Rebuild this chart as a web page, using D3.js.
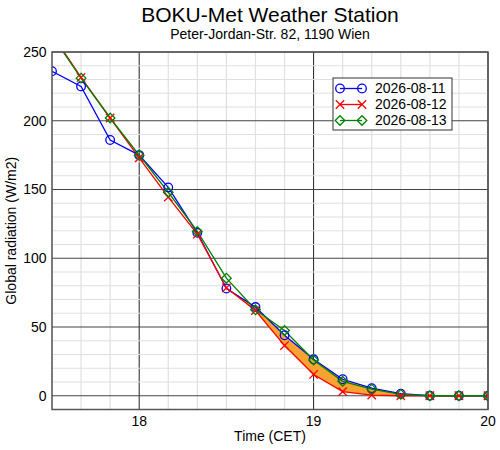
<!DOCTYPE html>
<html>
<head>
<meta charset="utf-8">
<script src="https://cdn.jsdelivr.net/npm/d3@7"></script>
<style>
  body { margin: 0; background: #fff; }
  svg { font-family: "Liberation Sans", Arial, sans-serif; }
</style>
</head>
<body>
<div id="chart"></div>
<script>
// 10-minute samples, CET
const times = ["17:30", "17:40", "17:50", "18:00", "18:10", "18:20", "18:30", "18:40",
               "18:50", "19:00", "19:10", "19:20", "19:30", "19:40", "19:50", "20:00"];

const day11 = [236, 225, 186, 175, 151.5, 118.5, 78, 64.5, 44, 26.5, 12, 5.5, 1.5, 0, 0, 0];
const day12 = [263, 231.5, 202, 173, 144.5, 117.5, 78.5, 62, 36.5, 15.5, 3, 0.5, 0, 0, 0, 0];
const day13 = [262, 231, 202, 175, 148, 119.5, 85.5, 62.5, 47.5, 26, 10.5, 4.8, 1, 0, 0, 0];

const seriesNames = ["2026-08-11", "2026-08-12", "2026-08-13"];
const seriesColors = ["#0000ff", "#ff0000", "#008000"];
const seriesMarkers = ["circle", "cross", "diamond"];

const xTicks = [18, 19, 20];
const yTicks = [0, 50, 100, 150, 200, 250];

// shading between 08-12 and 08-11 starts here
const fillFrom = "18:30";

const width = 500, height = 450;
const pLeft = 52, pRight = 488, pTop = 52, pBottom = 409.5;

const toHours = s => { const [h, m] = s.split(":").map(Number); return h + m / 60; };
const hours = times.map(toHours);

const x = d3.scaleLinear().domain([17.5, 20]).range([pLeft, pRight]);
const y = d3.scaleLinear().domain([-10, 250]).range([pBottom, pTop]);

const svg = d3.select("#chart").append("svg")
    .attr("width", width)
    .attr("height", height);

svg.append("defs").append("clipPath").attr("id", "plot-clip")
  .append("rect")
    .attr("x", pLeft).attr("y", pTop)
    .attr("width", pRight - pLeft).attr("height", pBottom - pTop);

// grid
const grid = svg.append("g");
const xMinor = d3.range(17.5, 20.001, 1 / 6).filter(v => !xTicks.some(t => Math.abs(t - v) < 1e-6));
const yMinor = d3.range(-10, 251, 10).filter(v => v % 50 !== 0);

grid.selectAll(".xminor").data(xMinor).join("line")
    .attr("x1", d => x(d)).attr("x2", d => x(d))
    .attr("y1", pTop).attr("y2", pBottom)
    .attr("stroke", "#e0e0e0").attr("stroke-width", 1.2);

grid.selectAll(".xmajor").data(xTicks).join("line")
    .attr("x1", d => x(d)).attr("x2", d => x(d))
    .attr("y1", pTop).attr("y2", pBottom)
    .attr("stroke", "#222").attr("stroke-width", 1);

grid.selectAll(".yminor").data(yMinor).join("line")
    .attr("x1", pLeft).attr("x2", pRight)
    .attr("y1", d => y(d)).attr("y2", d => y(d))
    .attr("stroke", "#e0e0e0").attr("stroke-width", 1.2);

grid.selectAll(".ymajor").data(yTicks).join("line")
    .attr("x1", pLeft).attr("x2", pRight)
    .attr("y1", d => y(d)).attr("y2", d => y(d))
    .attr("stroke", "#444").attr("stroke-width", 1.2);

const plot = svg.append("g").attr("clip-path", "url(#plot-clip)");

// orange difference band
const fillStart = toHours(fillFrom);
const band = hours.map((h, i) => ({ h, lo: day12[i], hi: Math.max(day11[i], day12[i]) }))
    .filter(d => d.h >= fillStart - 1e-6);

plot.append("path")
    .datum(band)
    .attr("fill", "#f6a331")
    .attr("d", d3.area().x(d => x(d.h)).y0(d => y(d.lo)).y1(d => y(d.hi)));

// markers
function marker(g, type, color) {
  if (type === "circle") {
    g.append("circle").attr("r", 4.3)
        .attr("fill", "none").attr("stroke", color).attr("stroke-width", 1.3);
  } else if (type === "cross") {
    const s = 4.2;
    g.append("path").attr("d", `M${-s},${-s}L${s},${s}M${-s},${s}L${s},${-s}`)
        .attr("fill", "none").attr("stroke", color).attr("stroke-width", 1.3);
  } else {
    const s = 4.8;
    g.append("path").attr("d", `M0,${-s}L${s},0L0,${s}L${-s},0Z`)
        .attr("fill", "none").attr("stroke", color).attr("stroke-width", 1.3);
  }
}

const allSeries = [day11, day12, day13];
const line = d3.line().x((d, i) => x(hours[i])).y(d => y(d));

allSeries.forEach((vals, k) => {
  plot.append("path")
      .datum(vals)
      .attr("fill", "none")
      .attr("stroke", seriesColors[k])
      .attr("stroke-width", 1.3)
      .attr("d", line);
});

allSeries.forEach((vals, k) => {
  vals.forEach((v, i) => {
    if (v > 250) return;
    const g = plot.append("g").attr("transform", `translate(${x(hours[i])},${y(v)})`);
    marker(g, seriesMarkers[k], seriesColors[k]);
  });
});

// frame
svg.append("rect")
    .attr("x", pLeft).attr("y", pTop)
    .attr("width", pRight - pLeft).attr("height", pBottom - pTop)
    .attr("fill", "none").attr("stroke", "#555").attr("stroke-width", 1.5);

// tick labels
svg.append("g").selectAll("text").data(yTicks).join("text")
    .attr("x", 46.5).attr("y", d => y(d)).attr("dy", "0.35em")
    .attr("text-anchor", "end").attr("font-size", 14)
    .text(d => d);

svg.append("g").selectAll("text").data(xTicks).join("text")
    .attr("x", d => x(d)).attr("y", 426)
    .attr("text-anchor", "middle").attr("font-size", 14)
    .text(d => d);

// axis titles
svg.append("text")
    .attr("x", (pLeft + pRight) / 2).attr("y", 441)
    .attr("text-anchor", "middle").attr("font-size", 14)
    .text("Time (CET)");

svg.append("text")
    .attr("transform", `translate(16,${(pTop + pBottom) / 2}) rotate(-90)`)
    .attr("text-anchor", "middle").attr("font-size", 14)
    .text("Global radiation (W/m2)");

// titles
svg.append("text")
    .attr("x", (pLeft + pRight) / 2).attr("y", 22)
    .attr("text-anchor", "middle").attr("font-size", 21)
    .text("BOKU-Met Weather Station");

svg.append("text")
    .attr("x", (pLeft + pRight) / 2).attr("y", 38.5)
    .attr("text-anchor", "middle").attr("font-size", 14)
    .text("Peter-Jordan-Str. 82, 1190 Wien");

// legend
const legend = svg.append("g");
legend.append("rect")
    .attr("x", 333).attr("y", 78).attr("width", 119).attr("height", 52)
    .attr("fill", "#fff").attr("stroke", "#333").attr("stroke-width", 1);

seriesNames.forEach((name, k) => {
  const ly = 88.5 + k * 16;
  legend.append("line")
      .attr("x1", 340).attr("x2", 362).attr("y1", ly).attr("y2", ly)
      .attr("stroke", seriesColors[k]).attr("stroke-width", 1.3);
  [340, 362].forEach(mx => {
    marker(legend.append("g").attr("transform", `translate(${mx},${ly})`), seriesMarkers[k], seriesColors[k]);
  });
  legend.append("text")
      .attr("x", 375).attr("y", ly).attr("dy", "0.35em")
      .attr("font-size", 14)
      .text(name);
});
</script>
</body>
</html>
